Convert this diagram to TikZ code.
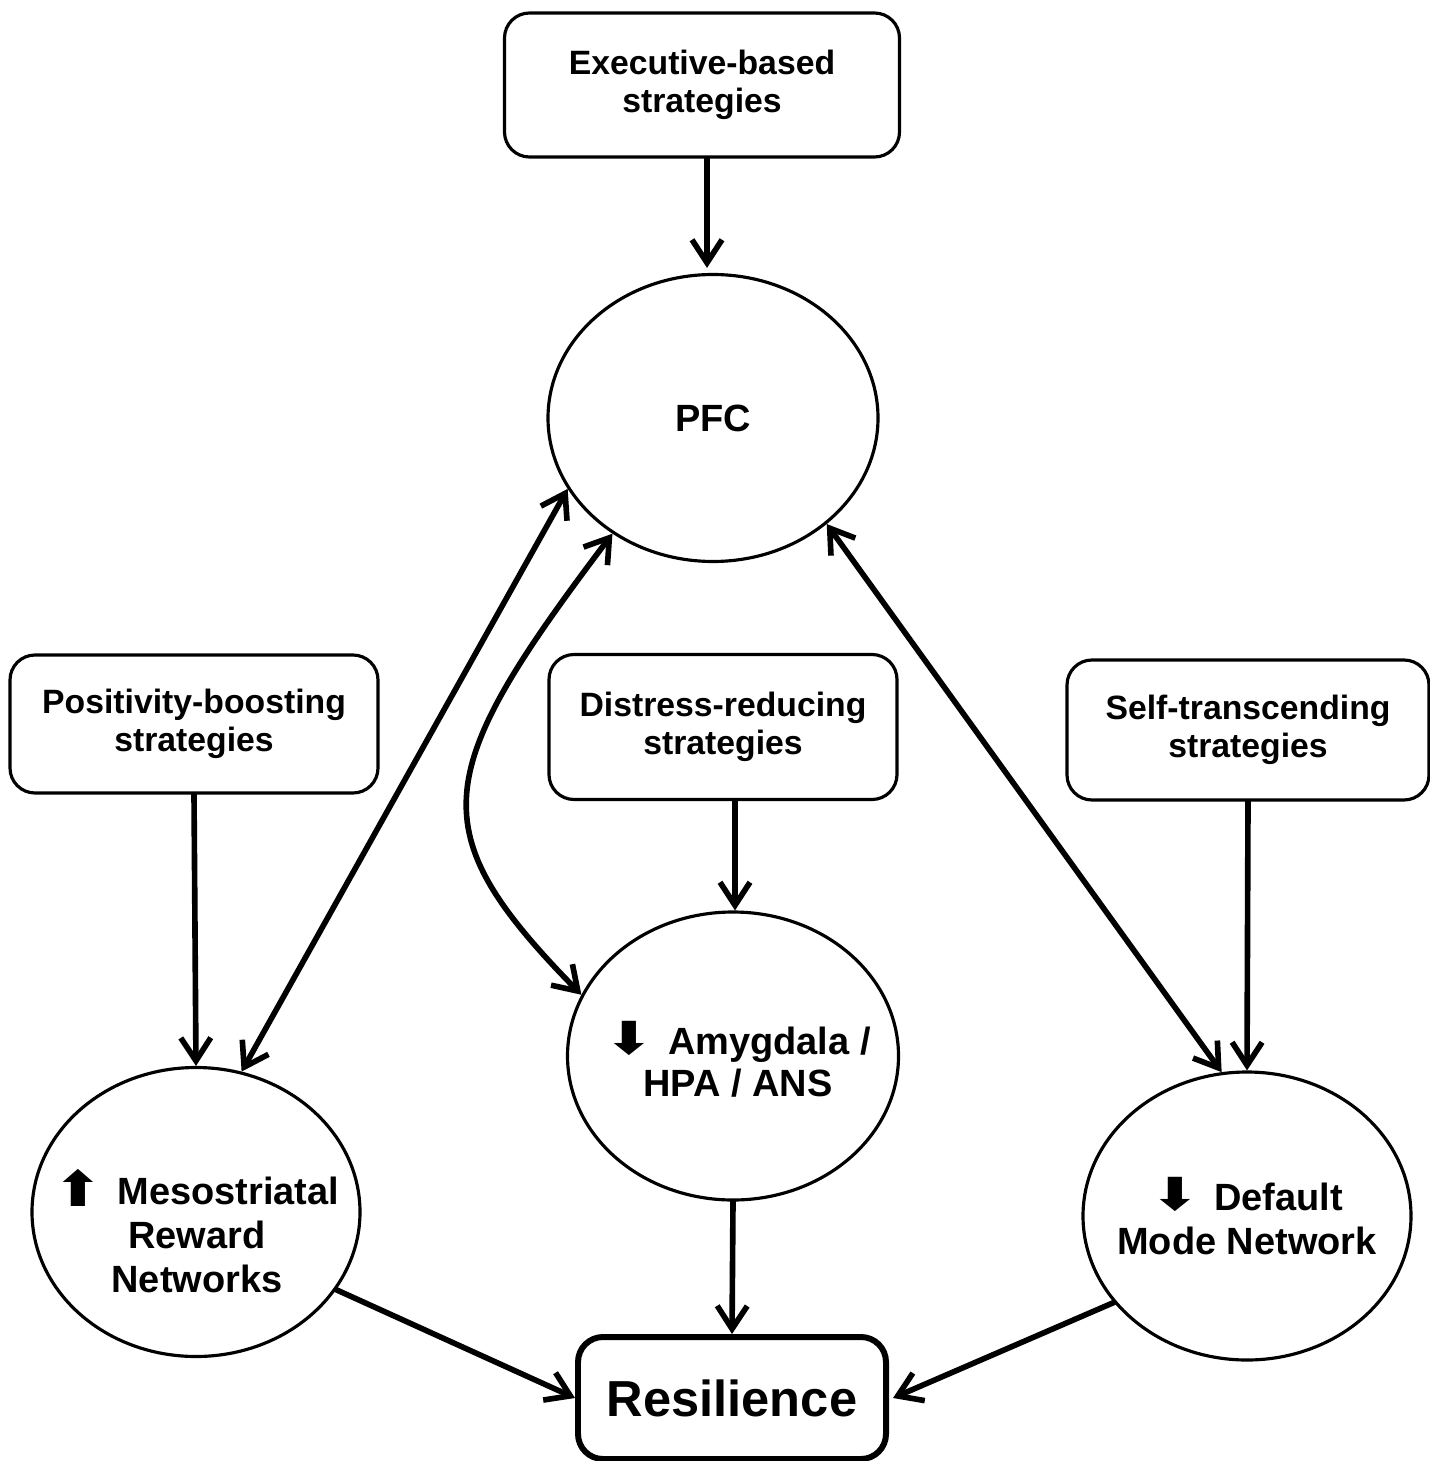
\documentclass[tikz,border=0pt]{standalone}
\usepackage{fontspec}
\setmainfont{Liberation Sans}
\newfontfamily\symfont{DejaVu Sans}
\usetikzlibrary{shapes.geometric,arrows.meta}
\newcommand{\uparr}{\raisebox{-0.5pt}[0pt][0pt]{\scalebox{1.5}[1.3]{\symfont\char"2B06}}}
\newcommand{\dnarr}{\raisebox{0pt}[0pt][0pt]{\scalebox{1.5}[1.2]{\symfont\char"2B07}}}
\tikzset{
  strat/.style={draw,rounded corners=0.25cm,line width=0.9pt,align=center,
    font=\bfseries\fontsize{9.6}{11}\selectfont,
    execute at begin node=\rule{0pt}{10pt}},
  region/.style={draw,ellipse,line width=0.9pt,inner sep=0pt},
  regtext/.style={align=center,font=\bfseries\fontsize{10.8}{12.6}\selectfont},
  tip/.tip={Straight Barb[length=2.3mm,width=3mm]},
  link/.style={line width=1.6pt,line cap=round,-tip},
  both/.style={line width=1.6pt,line cap=round,tip-tip}
}
\begin{document}
\begin{tikzpicture}
  \useasboundingbox (0,0) rectangle (14.29,-14.61);
  % strategies
  \node[strat,minimum width=3.95cm,minimum height=1.44cm] (exec) at (7.02,-0.85) {Executive-based\\strategies};
  \node[strat,minimum width=3.68cm,minimum height=1.38cm] (pos) at (1.94,-7.24) {Positivity-boosting\\strategies};
  \node[strat,minimum width=3.48cm,minimum height=1.45cm] (dist) at (7.23,-7.27) {Distress-reducing\\strategies};
  \node[strat,minimum width=3.62cm,minimum height=1.40cm] (self) at (12.48,-7.30) {Self-transcending\\strategies};
  % brain regions
  \node[region,minimum width=3.30cm,minimum height=2.87cm] (pfc) at (7.13,-4.18) {};
  \node[region,minimum width=3.28cm,minimum height=2.89cm] (meso) at (1.96,-12.12) {};
  \node[region,minimum width=3.31cm,minimum height=2.88cm] (amyg) at (7.33,-10.56) {};
  \node[region,minimum width=3.28cm,minimum height=2.88cm] (dmn) at (12.47,-12.16) {};
  \node[regtext] (pfctext) at (7.13,-4.18) {PFC};
  \node[regtext] (mesotext) at (1.97,-12.35) {\uparr\hspace{0.4em}Mesostriatal\\Reward\\Networks};
  \node[regtext,font=\bfseries\fontsize{10.8}{12}\selectfont] (amygtext) at (7.38,-10.62) {\dnarr\hspace{0.4em}Amygdala /\\HPA / ANS};
  \node[regtext] (dmntext) at (12.47,-12.19) {\dnarr\hspace{0.4em}Default\\Mode Network};
  \node[draw,rounded corners=0.25cm,line width=1.7pt,minimum width=3.08cm,minimum height=1.22cm,
    font=\bfseries\fontsize{14.4}{16}\selectfont] (res) at (7.32,-13.98) {Resilience};
  % connectors
  \draw[link] ([xshift=0.05cm]exec.south) -- ([xshift=-0.06cm,yshift=0.05cm]pfc.north);
  \draw[link] (pos.south) -- (meso.north);
  \draw[link] ([xshift=0.12cm]dist.south) -- ([xshift=0.02cm]amyg.north);
  \draw[link] (self.south) -- (dmn.north);
  \draw[both] (pfc.206) -- (meso.72);
  \draw[both] (pfc.-43) -- (dmn.100);
  \draw[both] (pfc.229) .. controls (4.3,-7.75) and (4.2,-8.3) .. (amyg.158);
  \draw[link] (meso.-29) -- (res.west);
  \draw[link] (amyg.south) -- (res.north);
  \draw[link] (dmn.213) -- ([xshift=0.04cm]res.east);
\end{tikzpicture}
\end{document}
